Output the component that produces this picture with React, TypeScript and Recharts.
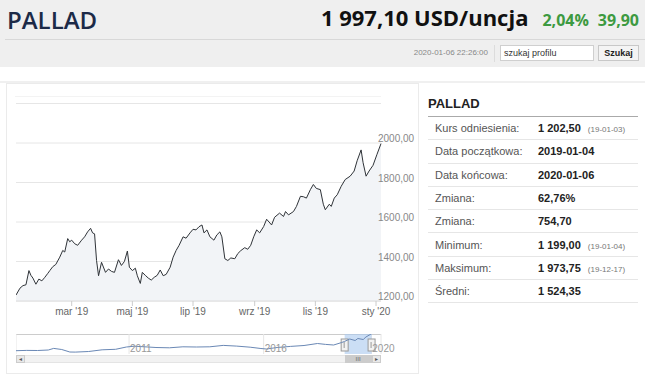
import React from 'react';
import { AreaChart, Area, LineChart, Line, XAxis, YAxis, CartesianGrid, ReferenceArea } from 'recharts';

// daily-ish closes
const dates = [
  '2019-01-04', '2019-01-08', '2019-01-11', '2019-01-14', '2019-01-17', '2019-01-19', '2019-01-21', '2019-01-24',
  '2019-01-27', '2019-01-30', '2019-02-02', '2019-02-05', '2019-02-07', '2019-02-10', '2019-02-13', '2019-02-17',
  '2019-02-20', '2019-02-22', '2019-02-25', '2019-02-27', '2019-03-01', '2019-03-04', '2019-03-07', '2019-03-11',
  '2019-03-14', '2019-03-17', '2019-03-20', '2019-03-22', '2019-03-24', '2019-03-26', '2019-03-28', '2019-03-31',
  '2019-04-04', '2019-04-07', '2019-04-10', '2019-04-13', '2019-04-17', '2019-04-20', '2019-04-23', '2019-04-26',
  '2019-04-28', '2019-05-01', '2019-05-04', '2019-05-06', '2019-05-09', '2019-05-11', '2019-05-14', '2019-05-17',
  '2019-05-20', '2019-05-23', '2019-05-26', '2019-05-29', '2019-06-01', '2019-06-04', '2019-06-08', '2019-06-11',
  '2019-06-14', '2019-06-17', '2019-06-21', '2019-06-24', '2019-06-28', '2019-07-01', '2019-07-04', '2019-07-07',
  '2019-07-10', '2019-07-12', '2019-07-15', '2019-07-18', '2019-07-22', '2019-07-25', '2019-07-28', '2019-07-30',
  '2019-08-02', '2019-08-05', '2019-08-08', '2019-08-12', '2019-08-15', '2019-08-18', '2019-08-22', '2019-08-25',
  '2019-08-28', '2019-08-31', '2019-09-03', '2019-09-06', '2019-09-10', '2019-09-13', '2019-09-18', '2019-09-21',
  '2019-09-26', '2019-09-30', '2019-10-02', '2019-10-05', '2019-10-10', '2019-10-13', '2019-10-17', '2019-10-20',
  '2019-10-23', '2019-10-27', '2019-10-30', '2019-11-02', '2019-11-06', '2019-11-09', '2019-11-11', '2019-11-15',
  '2019-11-17', '2019-11-20', '2019-11-23', '2019-11-27', '2019-12-01', '2019-12-06', '2019-12-10', '2019-12-13',
  '2019-12-17', '2019-12-19', '2019-12-22', '2019-12-25', '2019-12-29', '2020-01-02', '2020-01-06',
];
const prices = [
  1230, 1265, 1278, 1282, 1354, 1330, 1316, 1285,
  1311, 1302, 1320, 1340, 1354, 1374, 1385, 1422,
  1456, 1448, 1516, 1500, 1508, 1490, 1482, 1508,
  1525, 1550, 1568, 1545, 1540, 1405, 1328, 1396,
  1345, 1362, 1350, 1345, 1409, 1380, 1400, 1453,
  1371, 1354, 1366, 1328, 1289, 1345, 1330, 1316,
  1306, 1320, 1330, 1357, 1328, 1335, 1371, 1422,
  1456, 1482, 1525, 1518, 1545, 1563, 1560, 1576,
  1585, 1545, 1560, 1525, 1508, 1535, 1550, 1525,
  1414, 1405, 1418, 1414, 1440, 1455, 1470, 1462,
  1482, 1525, 1560, 1545, 1577, 1614, 1585, 1624,
  1645, 1628, 1653, 1636, 1653, 1679, 1730, 1728,
  1721, 1764, 1790, 1770, 1764, 1690, 1662, 1690,
  1679, 1721, 1738, 1781, 1815, 1832, 1858, 1910,
  1965, 1900, 1832, 1858, 1887, 1943, 1997,
];

const xTickDates = ['2019-03-01', '2019-05-01', '2019-07-01', '2019-09-01', '2019-11-01', '2020-01-01'];
const xTickLabels = ["mar '19", "maj '19", "lip '19", "wrz '19", "lis '19", "sty '20"];
const yTicks = [1200, 1400, 1600, 1800, 2000, 2200];

// navigator: long history, fractional years
const navYears = [
  2006.8, 2007.2, 2007.6, 2008.0, 2008.2, 2008.5, 2008.8, 2009.0, 2009.5, 2010.0, 2010.5, 2010.9,
  2011.2, 2011.7, 2012.0, 2012.5, 2013.0, 2013.5, 2014.0, 2014.5, 2015.0, 2015.5, 2015.9, 2016.1,
  2016.5, 2017.0, 2017.5, 2018.0, 2018.3, 2018.6, 2018.9, 2019.0, 2019.2, 2019.4, 2019.5, 2019.7,
  2019.8, 2019.96, 2020.01,
];
const navValues = [
  330, 360, 350, 400, 560, 450, 200, 190, 250, 420, 470, 700,
  780, 700, 650, 620, 720, 700, 720, 860, 790, 680, 550, 500,
  650, 760, 850, 1050, 960, 900, 1150, 1250, 1500, 1350, 1550, 1450,
  1700, 1950, 1997,
];
const navTicks = [2011, 2016, 2020];
const navRange = [2019.01, 2020.01];
const navDomain = [2006.8, 2020.36];

const tableRows = [
  { label: 'Kurs odniesienia:', value: '1 202,50', note: '(19-01-03)' },
  { label: 'Data początkowa:', value: '2019-01-04', note: '' },
  { label: 'Data końcowa:', value: '2020-01-06', note: '' },
  { label: 'Zmiana:', value: '62,76%', note: '' },
  { label: 'Zmiana:', value: '754,70', note: '' },
  { label: 'Minimum:', value: '1 199,00', note: '(19-01-04)' },
  { label: 'Maksimum:', value: '1 973,75', note: '(19-12-17)' },
  { label: 'Średni:', value: '1 524,35', note: '' },
];

const toTs = (s: string) => {
  const [y, m, d] = s.split('-').map(Number);
  return Date.UTC(y, m - 1, d);
};

const mainData = dates.map((d, i) => ({ t: toTs(d), v: prices[i] }));
const navData = navYears.map((y, i) => ({ y, v: navValues[i] }));
const tickTs = xTickDates.map(toTs);

const fmtY = (v: number) => v.toFixed(2).replace('.', ',');

const YTick = (props: any) => {
  const { x, y, payload } = props;
  if (payload.value === 2200) return null;
  return (
    <text x={x - 3} y={y - 1} fontSize={10} fill="#888" fontFamily="Arial, 'Liberation Sans', sans-serif">
      {fmtY(payload.value)}
    </text>
  );
};

const NavTick = (props: any) => {
  const { x, y, payload } = props;
  return (
    <text x={x + 1} y={y - 2} fontSize={10} fill="#999" fontFamily="Arial, 'Liberation Sans', sans-serif">
      {payload.value}
    </text>
  );
};

const NavSelection = (p: any) => (
  <g>
    <rect x={p.x} y={p.y} width={p.width} height={p.height} fill="#a8c8ef" fillOpacity={0.6} />
    {[p.x, p.x + p.width].map((hx: number, i: number) => (
      <g key={i}>
        <rect x={hx - 3.5} y={p.y + 5} width={7} height={12} fill="#f2f2f2" stroke="#999" strokeWidth={1} />
        <line x1={hx - 0.5} x2={hx - 0.5} y1={p.y + 8} y2={p.y + 14} stroke="#999" />
      </g>
    ))}
  </g>
);

const font = "Arial, 'Liberation Sans', sans-serif";
const abs = (s: React.CSSProperties): React.CSSProperties => ({ position: 'absolute', ...s });

export default function App() {
  const navLeft = 16;
  const navWidth = 365;
  const scaleNav = (v: number) => navLeft + ((v - navDomain[0]) / (navDomain[1] - navDomain[0])) * navWidth;
  const thumbL = scaleNav(navRange[0]);
  const thumbR = scaleNav(navRange[1]);

  return (
    <div style={{ position: 'relative', width: 645, height: 374, background: '#fff', fontFamily: font, overflow: 'hidden' }}>
      <style>{'body{margin:0}'}</style>

      {/* header */}
      <div style={abs({ left: 0, top: 0, width: 645, height: 67, background: '#efefef' })} />
      <div style={abs({ left: 7, top: 3, fontFamily: "'Open Sans', sans-serif", fontWeight: 600, fontSize: 24, color: '#1c2a47' })}>
        PALLAD
      </div>
      <div style={abs({ right: 6, top: 2, display: 'flex', alignItems: 'baseline', fontFamily: "'Open Sans', sans-serif", fontWeight: 700 })}>
        <span style={{ fontSize: 22, color: '#111' }}>1 997,10 USD/uncja</span>
        <span style={{ fontSize: 16, color: '#3d9a41', marginLeft: 14 }}>2,04%</span>
        <span style={{ fontSize: 16, color: '#3d9a41', marginLeft: 9 }}>39,90</span>
      </div>
      <div style={abs({ left: 5, top: 39, width: 640, height: 1, background: '#d8d8d8' })} />
      <div style={abs({ right: 157, top: 48, fontSize: 8, color: '#888' })}>2020-01-06 22:26:00</div>
      <div style={abs({ left: 494, top: 45, width: 1, height: 17, background: '#dcdcdc' })} />
      <div style={abs({ left: 500, top: 45, width: 89, height: 14, background: '#fff', border: '1px solid #cfcfcf', fontSize: 9, color: '#333', paddingLeft: 3, lineHeight: '14px', boxSizing: 'content-box' })}>
        szukaj profilu
      </div>
      <div style={abs({ left: 598, top: 45, width: 39, height: 14, background: '#f4f4f4', border: '1px solid #c8c8c8', fontSize: 9, fontWeight: 700, color: '#222', textAlign: 'center', lineHeight: '14px' })}>
        Szukaj
      </div>
      <div style={abs({ left: 0, top: 81, width: 645, height: 2, background: '#f0f0f0' })} />

      {/* chart panel */}
      <div style={abs({ left: 6, top: 83, width: 411, height: 289, border: '1px solid #ebebeb' })} />
      <div style={abs({ left: 15, top: 96, width: 366, height: 1, background: '#f3f3f3' })} />

      <div style={abs({ left: 16, top: 95 })}>
        <AreaChart width={402} height={225} data={mainData} margin={{ top: 8.5, right: 0, left: 0, bottom: 0 }}>
          <CartesianGrid vertical={false} stroke="#e6e6e6" />
          <XAxis
            dataKey="t"
            type="number"
            domain={[toTs('2019-01-04'), toTs('2020-01-06')]}
            ticks={tickTs}
            tickFormatter={(v: number) => xTickLabels[tickTs.indexOf(v)]}
            height={19}
            tickSize={5}
            tickMargin={2}
            tick={{ fontSize: 10, fill: '#666', fontFamily: font }}
            tickLine={{ stroke: '#ccc' }}
            axisLine={{ stroke: '#ddd' }}
          />
          <YAxis
            orientation="right"
            domain={[1200, 2200]}
            ticks={yTicks}
            width={37}
            axisLine={false}
            tickLine={false}
            tickSize={0}
            tickMargin={0}
            tick={<YTick />}
          />
          <Area
            type="linear"
            dataKey="v"
            stroke="#2f3338"
            strokeWidth={1}
            fill="#f2f4f7"
            fillOpacity={1}
            dot={false}
            activeDot={false}
            isAnimationActive={false}
          />
        </AreaChart>
      </div>

      {/* navigator */}
      <div style={abs({ left: 16, top: 334, width: 365, height: 1, background: '#ccc' })} />
      <div style={abs({ left: navLeft, top: 334 })}>
        <LineChart width={400} height={21} data={navData} margin={{ top: 0, right: 35, left: 0, bottom: 0 }}>
          <CartesianGrid horizontal={false} stroke="#e6e6e6" />
          <XAxis
            dataKey="y"
            type="number"
            domain={navDomain}
            ticks={navTicks}
            height={1}
            tickSize={0}
            tickMargin={0}
            axisLine={false}
            tick={<NavTick />}
          />
          <YAxis hide domain={[0, 2000]} />
          <ReferenceArea x1={navRange[0]} x2={navRange[1]} shape={<NavSelection />} />
          <Line type="linear" dataKey="v" stroke="#6a88b5" strokeWidth={1} dot={false} isAnimationActive={false} />
        </LineChart>
      </div>

      {/* scrollbar */}
      <div style={abs({ left: 16, top: 355, width: 365, height: 8, background: '#f2f2f2', border: '1px solid #e4e4e4', boxSizing: 'border-box' })} />
      <div style={abs({ left: thumbL, top: 355, width: thumbR - thumbL, height: 8, background: '#cccccc', fontSize: 6, color: '#666', textAlign: 'center', lineHeight: '8px' })}>III</div>
      <div style={abs({ left: 16, top: 355, width: 9, height: 8, background: '#e8e8e8', border: '1px solid #ccc', boxSizing: 'border-box', fontSize: 6, color: '#555', textAlign: 'center', lineHeight: '6px' })}>◂</div>
      <div style={abs({ left: 372, top: 355, width: 9, height: 8, background: '#e8e8e8', border: '1px solid #ccc', boxSizing: 'border-box', fontSize: 6, color: '#555', textAlign: 'center', lineHeight: '6px' })}>▸</div>

      {/* stats table */}
      <div style={abs({ left: 428, top: 96, fontSize: 13, fontWeight: 600, color: '#222' })}>PALLAD</div>
      <div style={abs({ left: 428, top: 116, width: 210, height: 1, background: '#aaa' })} />
      {tableRows.map((r, i) => (
        <div key={i} style={abs({ left: 428, top: 117 + i * 23.3, width: 210, height: 23.3, borderBottom: '1px solid #e6e6e6', boxSizing: 'border-box' })}>
          <span style={abs({ left: 7, top: 5, fontSize: 11, color: '#555' })}>{r.label}</span>
          <span style={abs({ left: 110, top: 5, fontSize: 11, fontWeight: 700, color: '#222', whiteSpace: 'nowrap' })}>
            {r.value}
            {r.note && <span style={{ fontSize: 8, fontWeight: 400, color: '#777', marginLeft: 7 }}>{r.note}</span>}
          </span>
        </div>
      ))}
    </div>
  );
}
